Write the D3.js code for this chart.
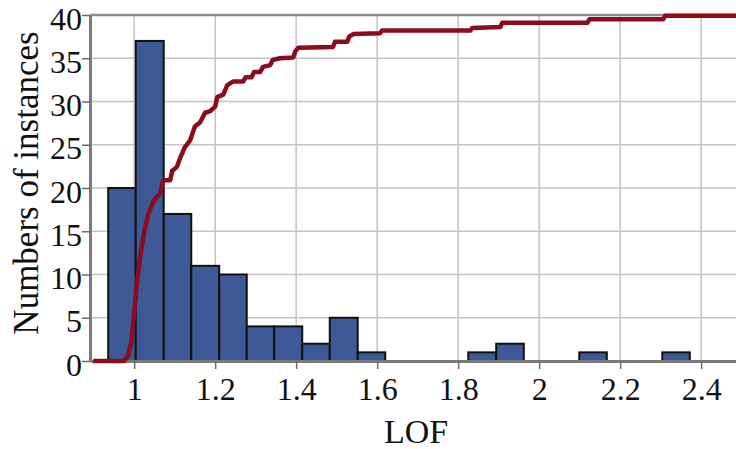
<!DOCTYPE html>
<html>
<head>
<meta charset="utf-8">
<script src="https://cdn.jsdelivr.net/npm/d3@7"></script>
<style>
  body { margin: 0; background: #fff; }
  text { font-family: "Liberation Serif", "DejaVu Serif", serif; fill: #111; }
  .grid line { stroke: #c4c4c4; stroke-width: 1.5; }
  .bar { fill: #3d5a96; stroke: #111; stroke-width: 2; }
  .cdf { fill: none; stroke: #8a0c1e; stroke-width: 4.5; stroke-linejoin: round; }
</style>
</head>
<body>
<svg width="736" height="449"></svg>
<script>
// histogram bins (left/right edges of each bar) and counts
const binEdges = [0.936, 1.004, 1.073, 1.141, 1.210, 1.278, 1.346, 1.415, 1.483, 1.552, 1.620,
  1.688, 1.757, 1.825, 1.894, 1.962, 2.030, 2.099, 2.167, 2.236, 2.304, 2.372]
const binCounts = [20, 37, 17, 11, 10, 4, 4, 2, 5, 1, 0, 0, 0, 1, 2, 0, 0, 1, 0, 0, 1]

// red cumulative curve
const cdfX = [0.899, 0.975, 0.985, 0.993, 1.000, 1.008, 1.016, 1.025, 1.035, 1.048, 1.064,
  1.072, 1.089, 1.094, 1.105, 1.114, 1.125, 1.138, 1.150, 1.163, 1.175, 1.188, 1.200, 1.205,
  1.220, 1.230, 1.244, 1.269, 1.275, 1.290, 1.296, 1.311, 1.318, 1.336, 1.342, 1.360, 1.393,
  1.398, 1.405, 1.491, 1.496, 1.526, 1.531, 1.541, 1.607, 1.612, 1.830, 1.835, 1.904, 1.909,
  2.119, 2.124, 2.306, 2.311, 2.490]
const cdfY = [0, 0, 0.6, 2.2, 5.5, 9.5, 12.5, 15, 17, 18.5, 19.4,
  20.9, 20.9, 22.0, 22.4, 23.5, 24.7, 25.5, 27.1, 27.6, 28.7, 28.9, 29.4, 30.5,
  30.8, 31.9, 32.3, 32.3, 32.8, 32.8, 33.4, 33.4, 34.0, 34.2, 34.8, 35.0, 35.1,
  35.8, 36.2, 36.3, 36.9, 36.9, 37.5, 37.8, 37.9, 38.2, 38.2, 38.5, 38.6, 39.1,
  39.1, 39.5, 39.5, 39.9, 39.9]

const xTicks = [1, 1.2, 1.4, 1.6, 1.8, 2, 2.2, 2.4]
const yTicks = [0, 5, 10, 15, 20, 25, 30, 35, 40]

const svg = d3.select('svg')

const plotLeft = 90, plotRight = 736, plotTop = 15, plotBottom = 361

const x = d3.scaleLinear().domain([0.891, 2.486]).range([plotLeft, plotRight])
const y = d3.scaleLinear().domain([0, 40]).range([plotBottom, plotTop])

// grid
const grid = svg.append('g').attr('class', 'grid')
grid.selectAll('line.v')
  .data(xTicks)
  .enter()
  .append('line')
  .attr('x1', d => x(d)).attr('x2', d => x(d))
  .attr('y1', plotTop).attr('y2', plotBottom)
grid.selectAll('line.h')
  .data(yTicks.filter(d => d > 0 && d < 40))
  .enter()
  .append('line')
  .attr('x1', plotLeft).attr('x2', plotRight)
  .attr('y1', d => y(d)).attr('y2', d => y(d))

// top frame line
svg.append('line')
  .attr('x1', plotLeft).attr('x2', plotRight)
  .attr('y1', y(40)).attr('y2', y(40))
  .attr('stroke', '#8c8c8c').attr('stroke-width', 2.5)

// bars
svg.selectAll('rect.bar')
  .data(binCounts)
  .enter()
  .append('rect')
  .attr('class', 'bar')
  .attr('x', (d, i) => x(binEdges[i]))
  .attr('width', (d, i) => x(binEdges[i + 1]) - x(binEdges[i]))
  .attr('y', d => y(d))
  .attr('height', d => y(0) - y(d))

// axes
const xAxis = svg.append('g')
  .attr('transform', `translate(0, ${plotBottom})`)
  .call(d3.axisBottom(x).tickValues(xTicks).tickFormat(d3.format('')).tickSize(8).tickSizeOuter(0).tickPadding(8))
const yAxis = svg.append('g')
  .attr('transform', `translate(${plotLeft}, 0)`)
  .call(d3.axisLeft(y).tickValues(yTicks).tickSize(8).tickSizeOuter(0).tickPadding(0))

svg.selectAll('.domain').attr('stroke', '#7a7a7a').attr('stroke-width', 3)
svg.selectAll('.tick line').attr('stroke', '#6a6a6a').attr('stroke-width', 1.5)
svg.selectAll('.tick text').style('font-size', '32px').attr('fill', '#111')
yAxis.selectAll('.tick text').attr('dy', '0.44em')

// cumulative curve
const cdfLine = d3.line()
  .x((d, i) => x(cdfX[i]))
  .y(d => y(d))
svg.append('path')
  .datum(cdfY)
  .attr('class', 'cdf')
  .attr('d', cdfLine)

// axis titles
svg.append('text')
  .attr('x', 416).attr('y', 443)
  .attr('text-anchor', 'middle')
  .style('font-size', '34px')
  .text('LOF')

svg.append('text')
  .attr('transform', 'translate(38, 183) rotate(-90)')
  .attr('text-anchor', 'middle')
  .style('font-size', '35px')
  .text('Numbers of instances')
</script>
</body>
</html>
